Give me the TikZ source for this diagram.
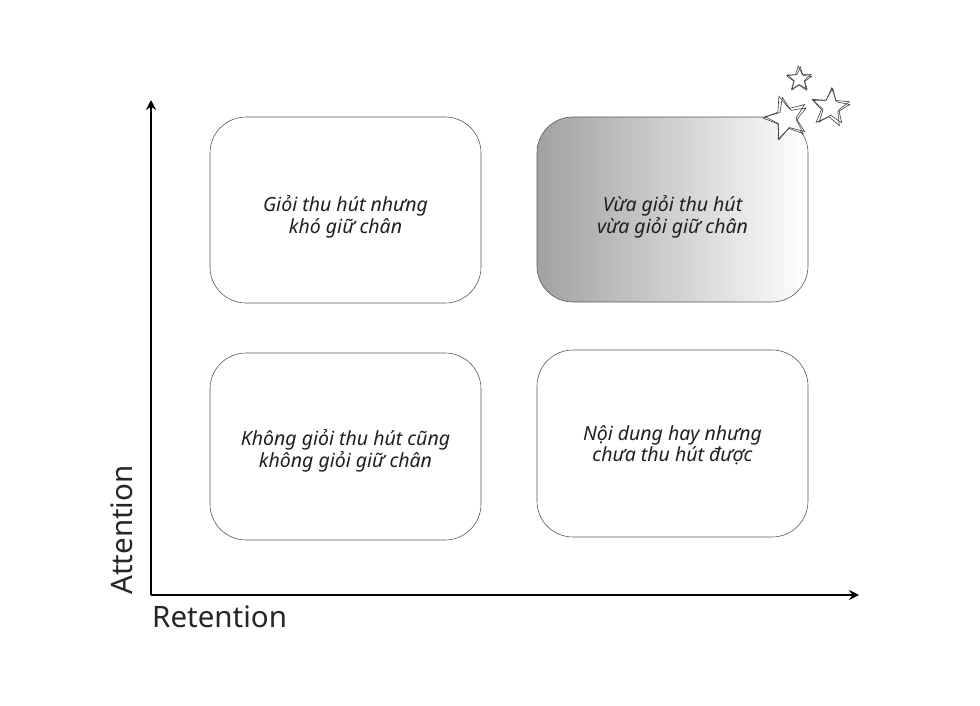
\documentclass[tikz,border=0pt]{standalone}
\usepackage{fontspec}
\setmainfont{Noto Sans}
\usetikzlibrary{shapes.geometric,arrows.meta}
\begin{document}
\begin{tikzpicture}[x=1pt,y=-1pt,
  quad/.style={draw=black!65, line width=0.6pt, rounded corners=36pt},
  qtext/.style={align=center, font=\fontsize{19.5}{21.5}\selectfont\itshape, text=black!88},
  axis/.style={line width=2.4pt, -{Stealth[length=10pt,width=10pt,inset=3.5pt]}},
  axlabel/.style={font=\fontsize{29.5}{34}\selectfont, text=black!85},
  starA/.style={star, star points=5, star point ratio=2.3, draw=black!75, line width=0.6pt, inner sep=0pt}
]
\useasboundingbox (0,0) rectangle (980,705);
% boxes
\draw[quad] (210,117) rectangle (481,303);
\draw[quad, left color=black!37, right color=white, shading angle=90] (537,117) rectangle (808,302);
\draw[quad] (210,353) rectangle (481,540);
\draw[quad] (537,350) rectangle (808,537);
\node[qtext] (q1) at (345.5,217) {Giỏi thu hút nhưng\\khó giữ chân};
\node[qtext] (q2) at (672.5,217) {Vừa giỏi thu hút\\vừa giỏi giữ chân};
\node[qtext] (q3) at (345.5,451) {Không giỏi thu hút cũng\\không giỏi giữ chân};
\node[qtext] (q4) at (672.5,445) {Nội dung hay nhưng\\chưa thu hút được};
% axes
\coordinate (o) at (151,595);
\coordinate (ytop) at (151,100);
\coordinate (xend) at (859,595);
\draw[axis] (o) -- (ytop);
\draw[axis] (o) -- (xend);
\node[axlabel, rotate=90, anchor=center] (att) at (122,530) {Attention};
\node[axlabel, anchor=base west, inner sep=0pt] (ret) at (152,627) {Retention};
% stars
\node[starA, minimum size=26pt, rotate=3] (s1) at (799,79) {};
\node[starA, minimum size=25pt, rotate=-4] (s1b) at (799.5,79.5) {};
\node[starA, minimum size=40pt, rotate=-8] (s2) at (830,108) {};
\node[starA, minimum size=38pt, rotate=-2] (s2b) at (831,107) {};
\node[starA, minimum size=46pt, rotate=18, fill=white] (s3) at (786,118) {};
\node[starA, minimum size=44pt, rotate=12] (s3b) at (787,119) {};
\end{tikzpicture}
\end{document}
